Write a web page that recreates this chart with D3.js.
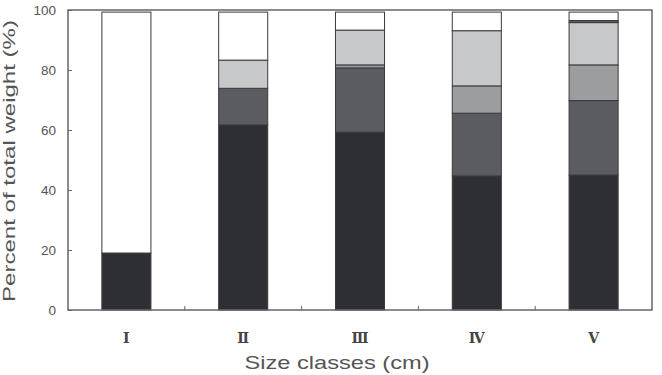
<!DOCTYPE html>
<html>
<head>
<meta charset="utf-8">
<script src="https://cdn.jsdelivr.net/npm/d3@7"></script>
<style>
  body { margin: 0; background: #fff; }
  .tick text { font-family: "Liberation Sans", Arial, sans-serif; fill: #555; }
</style>
</head>
<body>
<div id="chart"></div>
<script>
// size classes and the stacked shares (% of total weight), bottom to top
var classes = ["I", "II", "III", "IV", "V"];
var numerals = ["Ⅰ", "Ⅱ", "Ⅲ", "Ⅳ", "Ⅴ"];
var keys = ["a", "b", "c", "d", "e", "f"];
var segA = [19.0, 61.7, 59.3, 44.7, 45.0];
var segB = [0, 12.2, 21.4, 20.9, 24.8];
var segC = [0, 0, 1.0, 9.1, 11.9];
var segD = [0, 9.4, 11.6, 18.4, 14.1];
var segE = [0, 0, 0, 0, 0.7];
var segF = [80.3, 16.0, 6.0, 6.2, 2.8];
var yTicks = [0, 20, 40, 60, 80, 100];

var colors = {a: "#2e2f34", b: "#5b5c62", c: "#9c9d9f", d: "#c7c8ca", e: "#5b5c62", f: "#ffffff"};

var width = 662, height = 375;
var margin = {top: 10, right: 10, bottom: 65, left: 68};

var rows = classes.map(function (c, i) {
    return {cls: c, a: segA[i], b: segB[i], c: segC[i], d: segD[i], e: segE[i], f: segF[i]};
});
var series = d3.stack().keys(keys)(rows);

var svg = d3.select("#chart").append("svg")
    .attr("width", width).attr("height", height);

var x = d3.scaleBand()
    .domain(classes)
    .range([margin.left, width - margin.right]);
var y = d3.scaleLinear()
    .domain([0, 100])
    .range([height - margin.bottom, margin.top]);

var barW = x.bandwidth() * 0.42;

// bars
svg.append("g").selectAll("g")
    .data(series).enter().append("g")
    .attr("fill", function (s) { return colors[s.key]; })
    .selectAll("rect")
    .data(function (s) { return s; }).enter().append("rect")
    .filter(function (d) { return d[1] - d[0] > 0; })
    .attr("x", function (d) { return x(d.data.cls) + (x.bandwidth() - barW) / 2; })
    .attr("y", function (d) { return y(d[1]); })
    .attr("width", barW)
    .attr("height", function (d) { return y(d[0]) - y(d[1]); })
    .attr("stroke", "#3a3a3e")
    .attr("stroke-width", 1);

// frame
svg.append("rect")
    .attr("x", margin.left).attr("y", margin.top)
    .attr("width", width - margin.left - margin.right)
    .attr("height", height - margin.top - margin.bottom)
    .attr("fill", "none").attr("stroke", "#666").attr("stroke-width", 1.5);

// y axis, ticks point inward
var yAxis = d3.axisLeft(y).tickValues(yTicks).tickSizeInner(-4).tickSizeOuter(0).tickPadding(12);
svg.append("g")
    .attr("transform", "translate(" + margin.left + ",0)")
    .call(yAxis)
    .call(function (g) { g.select(".domain").remove(); })
    .call(function (g) { g.selectAll("line").attr("stroke", "#666"); })
    .selectAll("text").attr("font-size", 13.5);

// x ticks between classes
var bounds = classes.slice(1).map(function (c) { return x(c); });
svg.append("g").selectAll("line")
    .data(bounds).enter().append("line")
    .attr("x1", function (d) { return d; }).attr("x2", function (d) { return d; })
    .attr("y1", y(0)).attr("y2", y(0) - 4)
    .attr("stroke", "#666");

svg.append("g").selectAll("text")
    .data(classes).enter().append("text")
    .attr("x", function (d) { return x(d) + x.bandwidth() / 2; })
    .attr("y", y(0) + 33)
    .attr("text-anchor", "middle")
    .attr("font-family", "'DejaVu Serif', serif")
    .attr("font-weight", "bold")
    .attr("font-size", 14)
    .attr("fill", "#444")
    .text(function (d, i) { return numerals[i]; });

// axis titles
svg.append("text")
    .attr("x", 337)
    .attr("y", height - 6)
    .attr("text-anchor", "middle")
    .attr("font-family", "'Liberation Sans', Arial, sans-serif")
    .attr("font-size", 19)
    .attr("textLength", 185)
    .attr("lengthAdjust", "spacingAndGlyphs")
    .attr("fill", "#555")
    .text("Size classes (cm)");

svg.append("text")
    .attr("transform", "translate(15,161) rotate(-90)")
    .attr("text-anchor", "middle")
    .attr("font-family", "'Liberation Sans', Arial, sans-serif")
    .attr("font-size", 17)
    .attr("textLength", 282)
    .attr("lengthAdjust", "spacingAndGlyphs")
    .attr("fill", "#555")
    .text("Percent of total weight (%)");
</script>
</body>
</html>
